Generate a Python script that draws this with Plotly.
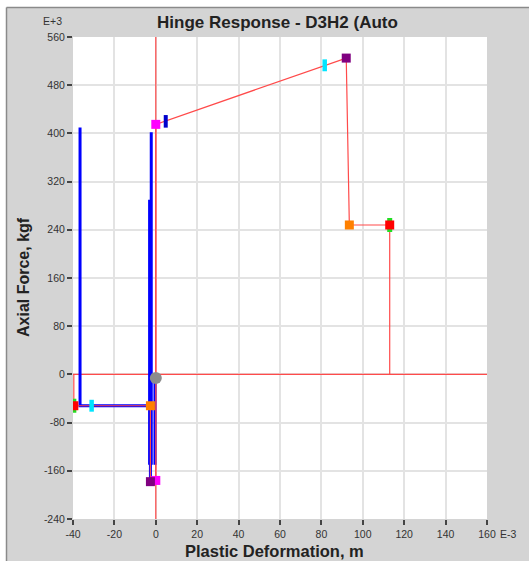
import plotly.graph_objects as go

# ---------------- data ----------------
x_ticks = [-40, -20, 0, 20, 40, 60, 80, 100, 120, 140, 160]
y_ticks = [-240, -160, -80, 0, 80, 160, 240, 320, 400, 480, 560]

# hinge backbone (red)
backbone_x = [-39.6, -39.6, -2.6, -2.6, 0, 0, 0, 92, 93.5, 113, 113]
backbone_y = [0, -52, -52, -178, -177, 0, 415, 525, 248, 248, 0]

# hinge response (blue)
resp_x = [-36.6, -36.6, -2.6, -2.6, None, -3.0, -3.0, None, -2.2, -2.2, None, -0.4, -0.4]
resp_y = [410, -52, -52, -178, None, 290, -150, None, -150, 402, None, -5, -150]

# point markers
B_x, B_y = [0, 0], [415, -176]            # magenta
C_x, C_y = [92, -2.6], [525, -178]        # purple
D_x, D_y = [93.5, -2.6], [248, -52]       # orange
E_x, E_y = [113, -39.6], [248, -52]       # red
CP_x, CP_y = [113, -39.6], [248, -52]     # green
LS_x, LS_y = [81.6, -31], [513, -52]      # cyan
IO_x, IO_y = [4.8], [420]                 # blue
cur_x, cur_y = [0], [-6]                  # gray current state

title_text = "Hinge Response - D3H2 (Auto"
x_title = "Plastic Deformation, m"
y_title = "Axial Force, kgf"

# ---------------- layout geometry ----------------
W, H = 529, 561
ML, MR, MT, MB = 73, 42, 37, 42
PW, PH = W - ML - MR, H - MT - MB
RED = "#ff4a4a"


def px(x):
    return (x - ML) / PW


def py(y):
    return (H - MB - y) / PH


fig = go.Figure()

fig.add_trace(go.Scatter(x=resp_x, y=resp_y, mode="lines",
                         line=dict(color="#0000ff", width=3),
                         showlegend=False, hoverinfo="skip"))
fig.add_trace(go.Scatter(x=backbone_x, y=backbone_y, mode="lines",
                         line=dict(color=RED, width=1.2),
                         showlegend=False))

def add_markers(xs, ys, color, symbol="square", size=9, lw=0):
    if symbol == "line-ns":
        marker = dict(symbol=symbol, size=size, line=dict(color=color, width=lw))
    else:
        marker = dict(symbol=symbol, size=size, color=color, line=dict(width=0))
    fig.add_trace(go.Scatter(x=xs, y=ys, mode="markers", marker=marker,
                             showlegend=False))

add_markers(CP_x, CP_y, "#22dd22", "line-ns", 10, 5)
add_markers(IO_x, IO_y, "#0000cc", "line-ns", 9, 4)
add_markers(LS_x, LS_y, "#00e5ff", "line-ns", 8.5, 4.5)
add_markers(B_x, B_y, "#ff00ff", "square", 9)
add_markers(C_x, C_y, "#800080", "square", 9)
add_markers(D_x, D_y, "#ff8000", "square", 9)
add_markers(E_x, E_y, "#ff0000", "square", 9)
add_markers(cur_x, cur_y, "#8c8c8c", "circle", 12)

font = "Liberation Sans, Arial, sans-serif"

fig.update_layout(
    width=W, height=H,
    margin=dict(l=ML, r=MR, t=MT, b=MB),
    paper_bgcolor="#d4d4d4",
    plot_bgcolor="#ffffff",
    font=dict(family=font, size=10.5, color="#333333"),
    xaxis=dict(range=[-40, 160], tickvals=x_ticks, ticktext=[str(v) for v in x_ticks],
               ticks="outside", ticklen=5, tickwidth=1.5, tickcolor="#444444",
               showgrid=True, gridcolor="#e3e3e3", gridwidth=2,
               zeroline=False, showline=False, fixedrange=True),
    yaxis=dict(range=[-240, 560], tickvals=y_ticks, ticktext=[str(v) for v in y_ticks],
               ticks="outside", ticklen=5, tickwidth=1.5, tickcolor="#444444",
               showgrid=True, gridcolor="#e3e3e3", gridwidth=2,
               zeroline=False, showline=False, fixedrange=True),
    shapes=[
        # red zero axes
        dict(type="line", xref="x", yref="y", x0=0, x1=0, y0=-240, y1=560,
             line=dict(color=RED, width=1.2), layer="between"),
        dict(type="line", xref="x", yref="y", x0=-40, x1=160, y0=0, y1=0,
             line=dict(color=RED, width=1.2), layer="between"),
        # outer frame
        dict(type="rect", xref="paper", yref="paper", x0=px(0), x1=px(6.5),
             y0=py(H), y1=py(0), fillcolor="#ffffff", line=dict(width=0), layer="below"),
        dict(type="rect", xref="paper", yref="paper", x0=px(0), x1=px(W),
             y0=py(7.5), y1=py(0), fillcolor="#ffffff", line=dict(width=0), layer="below"),
        dict(type="line", xref="paper", yref="paper", x0=px(6.5), x1=px(6.5),
             y0=py(7.5), y1=py(H), line=dict(color="#8a8a8a", width=1.5), layer="below"),
        dict(type="line", xref="paper", yref="paper", x0=px(6.5), x1=px(W),
             y0=py(7.5), y1=py(7.5), line=dict(color="#8a8a8a", width=1.5), layer="below"),
    ],
    annotations=[
        dict(text="<b>" + title_text + "</b>", xref="paper", yref="paper",
             x=px(277), y=py(22), xanchor="center", yanchor="middle", showarrow=False,
             font=dict(size=17, color="#222222", family=font)),
        dict(text="E+3", xref="paper", yref="paper", x=px(52), y=py(21),
             xanchor="center", yanchor="middle", showarrow=False,
             font=dict(size=10.5, color="#333333", family=font)),
        dict(text="E-3", xref="paper", yref="paper", x=px(508), y=py(534),
             xanchor="center", yanchor="middle", showarrow=False,
             font=dict(size=10.5, color="#333333", family=font)),
        dict(text="<b>" + x_title + "</b>", xref="paper", yref="paper",
             x=px(274), y=py(551), xanchor="center", yanchor="middle", showarrow=False,
             font=dict(size=16.5, color="#222222", family=font)),
        dict(text="<b>" + y_title + "</b>", xref="paper", yref="paper",
             x=px(23), y=py(277), xanchor="center", yanchor="middle", showarrow=False,
             textangle=-90, font=dict(size=16, color="#222222", family=font)),
    ],
)

fig.write_html("out.html")
